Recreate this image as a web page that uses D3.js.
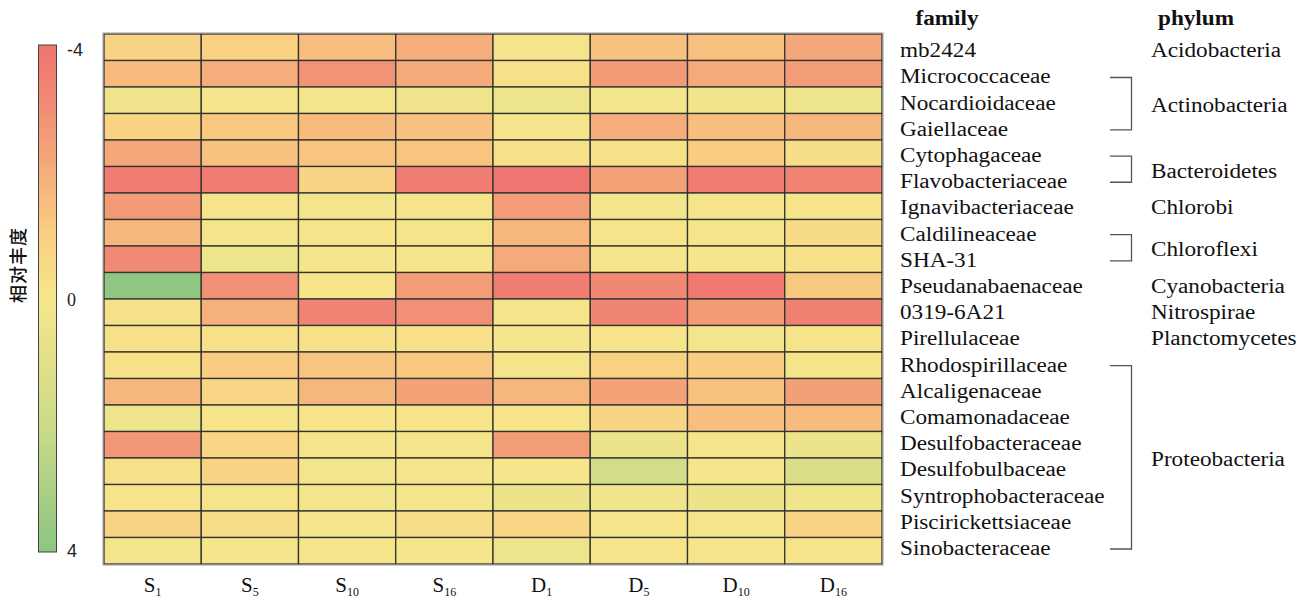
<!DOCTYPE html>
<html>
<head>
<meta charset="utf-8">
<script src="https://cdn.jsdelivr.net/npm/d3@7"></script>
<style>
  html, body { margin: 0; padding: 0; background: #fff; }
  svg { display: block; }
</style>
</head>
<body>
<svg id="chart" width="1310" height="603"></svg>
<script>
// Families (rows, top to bottom)
const families = [
  "mb2424", "Micrococcaceae", "Nocardioidaceae", "Gaiellaceae", "Cytophagaceae",
  "Flavobacteriaceae", "Ignavibacteriaceae", "Caldilineaceae", "SHA-31", "Pseudanabaenaceae",
  "0319-6A21", "Pirellulaceae", "Rhodospirillaceae", "Alcaligenaceae", "Comamonadaceae",
  "Desulfobacteraceae", "Desulfobulbaceae", "Syntrophobacteraceae", "Piscirickettsiaceae", "Sinobacteraceae"
];

// Samples (columns): letter + subscript
const sampleIds  = ["S1", "S5", "S10", "S16", "D1", "D5", "D10", "D16"];
const sampleBase = ["S", "S", "S", "S", "D", "D", "D", "D"];
const sampleSub  = ["1", "5", "10", "16", "1", "5", "10", "16"];

// Relative abundance per sample, one value per family (same order as families)
const valuesS1  = [-0.8, -1.6, 0.3, -0.8, -2.2, -3.7, -2.6, -1.7, -3.1, 3.9, -0.2, -0.2, -0.2, -1.7, 0.4, -2.7, -0.2, -0.1, -0.8, 0.1];
const valuesS5  = [-0.9, -2.0, 0.0, -1.2, -1.4, -3.7, -0.1, -0.1, 0.4, -2.9, -1.9, -0.2, -1.1, -0.7, -0.1, -0.7, -0.8, -0.1, -0.4, 0.0];
const valuesS10 = [-1.5, -2.8, 0.1, -1.6, -1.3, -0.8, 0.1, -0.1, 0.0, -0.1, -3.4, -0.2, -1.3, -1.7, -0.1, -0.1, 0.1, 0.1, -0.1, -0.1];
const valuesS16 = [-2.0, -2.1, 0.3, -1.4, -1.3, -3.6, -0.1, -0.1, 0.0, -2.5, -2.9, -0.2, -1.2, -2.3, -0.1, -0.1, 0.0, 0.0, -0.4, 0.0];
const valuesD1  = [-0.1, -0.2, 0.4, -0.1, -0.2, -3.9, -2.5, -1.7, -2.1, -3.6, -0.1, 0.0, -0.1, -1.7, -0.1, -2.5, 0.0, 0.5, -0.7, 0.4];
const valuesD5  = [-1.4, -2.6, 0.1, -2.0, -0.2, -2.3, 0.1, -0.1, -0.1, -3.2, -3.3, -0.1, -0.9, -2.3, -0.8, 0.5, 1.7, 0.2, -0.1, -0.1];
const valuesD10 = [-1.4, -2.1, 0.2, -1.5, -1.1, -3.7, -0.1, -0.1, 0.0, -3.8, -2.6, 0.1, -1.1, -1.4, -1.5, -0.1, 0.0, 0.5, -0.1, -0.1];
const valuesD16 = [-2.2, -2.5, 0.4, -1.7, -0.3, -3.4, -0.1, -0.5, -0.2, -1.2, -3.5, -0.1, -0.1, -2.4, -1.6, 0.5, 1.3, 0.2, -0.8, -0.1];

// Phylum groups by family row range
const phylumNames = ["Acidobacteria", "Actinobacteria", "Bacteroidetes", "Chlorobi", "Chloroflexi",
                     "Cyanobacteria", "Nitrospirae", "Planctomycetes", "Proteobacteria"];
const phylumStart = [0, 1, 4, 6, 7, 9, 10, 11, 12];
const phylumEnd   = [0, 3, 5, 6, 8, 9, 10, 11, 19];

// Colour legend ticks
const legendTicks = [-4, 0, 4];
const legendTitle = "相对丰度";

const columns = [valuesS1, valuesS5, valuesS10, valuesS16, valuesD1, valuesD5, valuesD10, valuesD16];
const cells = [];
columns.forEach((col, j) => col.forEach((v, i) => cells.push({ sample: sampleIds[j], family: families[i], value: v })));

const svg = d3.select("#chart");
const serif = "'Liberation Serif', 'Times New Roman', serif";
const stretch = 1.16;

// Colour scale: negative = red, zero = yellow, positive = green
const color = d3.scaleLinear()
  .domain([-4, -3, -2, -1, 0, 1, 2, 4])
  .range(["#EF736F", "#F18D75", "#F5AD7B", "#F9CF82", "#F5E68B", "#E2E08A", "#CBDA88", "#8CC682"])
  .interpolate(d3.interpolateRgb)
  .clamp(true);

// Heatmap geometry
const x = d3.scaleBand().domain(sampleIds).range([104, 882]).padding(0);
const y = d3.scaleBand().domain(families).range([34, 564]).padding(0);

const heat = svg.append("g");
heat.selectAll("rect.cell")
  .data(cells)
  .join("rect")
  .attr("class", "cell")
  .attr("x", d => x(d.sample))
  .attr("y", d => y(d.family))
  .attr("width", x.bandwidth())
  .attr("height", y.bandwidth())
  .attr("fill", d => color(d.value))
  .attr("stroke", "#333")
  .attr("stroke-width", 1.3);

heat.append("rect")
  .attr("x", 103).attr("y", 33)
  .attr("width", 780).attr("height", 532)
  .attr("fill", "none")
  .attr("stroke", "#9a9a9a")
  .attr("stroke-width", 1);

// Column labels with subscripts
const xl = svg.append("g").attr("font-family", serif).attr("fill", "#111");
sampleIds.forEach((id, j) => {
  const t = xl.append("text")
    .attr("x", x(id) + x.bandwidth() / 2)
    .attr("y", 592)
    .attr("text-anchor", "middle")
    .attr("font-size", 21);
  t.append("tspan").text(sampleBase[j]);
  t.append("tspan").attr("font-size", 12).attr("dy", 4).text(sampleSub[j]);
});

// Family labels
const labelY = d3.scalePoint().domain(families).range([57.3, 555]);
const famG = svg.append("g").attr("transform", `translate(900,0) scale(${stretch},1)`)
  .attr("font-family", serif).attr("font-size", 20).attr("fill", "#111");
famG.selectAll("text.fam")
  .data(families)
  .join("text")
  .attr("class", "fam")
  .attr("x", 0)
  .attr("y", d => labelY(d))
  .text(d => d);

// Headers
svg.append("g").attr("transform", `translate(947,25) scale(${stretch},1)`)
  .append("text").attr("text-anchor", "middle").attr("font-family", serif)
  .attr("font-weight", "bold").attr("font-size", 20).attr("fill", "#111").text("family");
svg.append("g").attr("transform", `translate(1196,25) scale(${stretch},1)`)
  .append("text").attr("text-anchor", "middle").attr("font-family", serif)
  .attr("font-weight", "bold").attr("font-size", 20).attr("fill", "#111").text("phylum");

// Phylum labels and brackets
const phyG = svg.append("g").attr("transform", `translate(1151,0) scale(${stretch},1)`)
  .attr("font-family", serif).attr("font-size", 20).attr("fill", "#111");
phylumNames.forEach((name, k) => {
  const y0 = labelY(families[phylumStart[k]]);
  const y1 = labelY(families[phylumEnd[k]]);
  const multi = phylumEnd[k] > phylumStart[k];
  phyG.append("text")
    .attr("x", 0)
    .attr("y", (y0 + y1) / 2 + (multi ? 2.5 : 0))
    .text(name);
  if (multi) {
    const top = y0 - 6, bot = y1 - 6;
    svg.append("path")
      .attr("d", `M1110,${top}H1131.5V${bot}H1110`)
      .attr("fill", "none")
      .attr("stroke", "#555")
      .attr("stroke-width", 1.3);
  }
});

// Colour legend
const legX = 38.5, legW = 18, legTop = 45, legBot = 552;
const legScale = d3.scaleLinear().domain([-4, 4]).range([legTop, legBot]);
const defs = svg.append("defs");
const grad = defs.append("linearGradient").attr("id", "legendGrad")
  .attr("x1", 0).attr("y1", 0).attr("x2", 0).attr("y2", 1);
d3.range(-4, 4.01, 0.5).forEach(v => {
  grad.append("stop").attr("offset", (v + 4) / 8).attr("stop-color", color(v));
});
svg.append("rect")
  .attr("x", legX).attr("y", legTop)
  .attr("width", legW).attr("height", legBot - legTop)
  .attr("fill", "url(#legendGrad)")
  .attr("stroke", "#444").attr("stroke-width", 1);

svg.append("g").selectAll("text")
  .data(legendTicks)
  .join("text")
  .attr("x", 67)
  .attr("y", d => Math.max(56, Math.min(557, legScale(d) + 7.5)))
  .attr("font-family", d => d === 0 ? serif : "'Liberation Sans', Arial, sans-serif")
  .attr("font-size", 18)
  .attr("fill", "#222")
  .text(d => d);

svg.append("text")
  .attr("transform", "translate(17,265) rotate(-90)")
  .attr("text-anchor", "middle")
  .attr("dominant-baseline", "central")
  .attr("font-family", "'Noto Sans CJK SC', sans-serif")
  .attr("font-weight", 500)
  .attr("font-size", 18)
  .attr("letter-spacing", 1)
  .attr("fill", "#111")
  .text(legendTitle);
</script>
</body>
</html>
